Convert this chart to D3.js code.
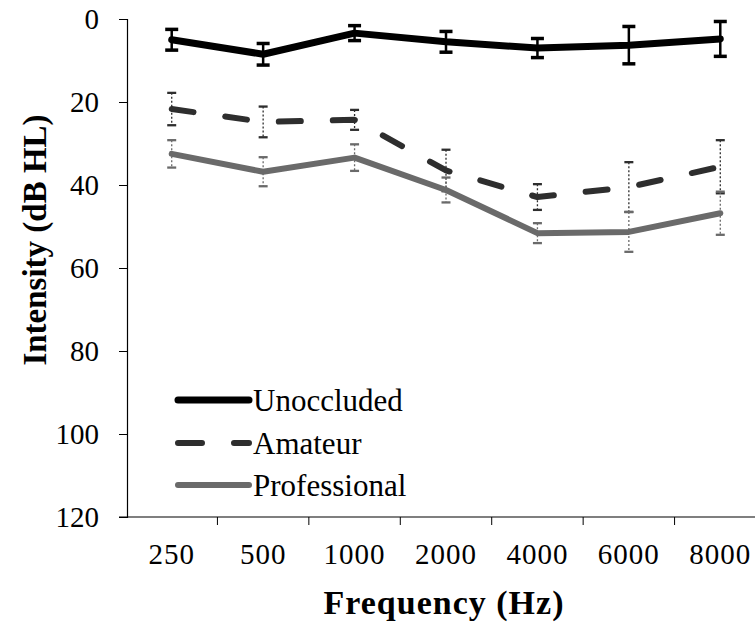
<!DOCTYPE html>
<html>
<head>
<meta charset="utf-8">
<script src="https://cdn.jsdelivr.net/npm/d3@7"></script>
<style>
  body { margin: 0; background: #fff; }
  svg, svg text { font-family: "Liberation Serif", "Times New Roman", Times, "DejaVu Serif", serif; }
</style>
</head>
<body>
<div id="chart"></div>
<script>
(function() {
  'use strict';

  // Data (dB HL, mean +/- error)
  var frequencies = ['250', '500', '1000', '2000', '4000', '6000', '8000'];
  var unoccluded = [5, 8.5, 3.4, 5.5, 7, 6.3, 4.8];
  var unoccludedErr = [2.5, 2.6, 1.8, 2.5, 2.3, 4.5, 4.2];
  var amateur = [21.7, 24.8, 24.3, 36.5, 42.9, 40.5, 35.6];
  var amateurErr = [3.9, 3.7, 2.4, 5, 3.1, 6, 6.4];
  var professional = [32.5, 36.8, 33.4, 41.2, 51.6, 51.3, 46.8];
  var professionalErr = [3.3, 3.5, 3.2, 3, 2.4, 4.8, 5.2];
  var yTicks = [0, 20, 40, 60, 80, 100, 120];

  var series = [
    { name: 'Unoccluded', values: unoccluded, err: unoccludedErr, color: '#000', width: 7, dash: null, errWidth: 2.5, errDash: null, cap: 13 },
    { name: 'Amateur', values: amateur, err: amateurErr, color: '#2e2e2e', width: 6, dash: '22,32', errWidth: 1.3, errDash: '2,2', cap: 9 },
    { name: 'Professional', values: professional, err: professionalErr, color: '#6a6a6a', width: 6, dash: null, errWidth: 1.3, errDash: '2,2', cap: 9 }
  ];

  var width = 755, height = 624;
  var left = 127, top = 19, bottom = 517, right = 766;
  var serif = '"Liberation Serif", "Times New Roman", Times, "DejaVu Serif", serif';

  var svg = d3.select('#chart').append('svg')
    .attr('width', width)
    .attr('height', height);

  var x = d3.scaleBand().domain(frequencies).range([left - 1, right]);
  var y = d3.scaleLinear().domain([0, 120]).range([top, bottom]);

  // --- Axes ---
  var yAxis = svg.append('g')
    .attr('transform', 'translate(' + left + ',0)')
    .call(d3.axisLeft(y).tickValues(yTicks).tickSize(8).tickPadding(20));
  yAxis.attr('font-family', serif);
  yAxis.select('.domain').attr('stroke', '#000').attr('stroke-width', 1.2);
  yAxis.selectAll('.tick line').attr('stroke', '#000');
  yAxis.selectAll('.tick text')
    .style('font-size', '29px')
    .style('font-family', serif)
    .attr('fill', '#000');

  // x axis: ticks between categories
  var boundaries = frequencies.slice(1).map(function(f) { return x(f); });
  var xg = svg.append('g');
  xg.append('line')
    .attr('x1', left - 8).attr('x2', width)
    .attr('y1', bottom).attr('y2', bottom)
    .attr('stroke', '#000').attr('stroke-width', 1.2);
  xg.selectAll('line.tk')
    .data(boundaries)
    .join('line')
    .attr('class', 'tk')
    .attr('x1', function(d) { return d; }).attr('x2', function(d) { return d; })
    .attr('y1', bottom).attr('y2', bottom + 8)
    .attr('stroke', '#000').attr('stroke-width', 1);
  xg.selectAll('text')
    .data(frequencies)
    .join('text')
    .attr('x', function(d) { return x(d) + x.bandwidth() / 2; })
    .attr('y', 564)
    .attr('text-anchor', 'middle')
    .style('font-family', serif)
    .style('font-size', '29px')
    .style('letter-spacing', '1px')
    .text(function(d) { return d; });

  // Axis titles
  svg.append('text')
    .attr('x', 444).attr('y', 614)
    .attr('text-anchor', 'middle')
    .style('font-family', serif)
    .style('font-size', '34px')
    .style('font-weight', '700')
    .style('letter-spacing', '1px')
    .text('Frequency (Hz)');

  svg.append('text')
    .attr('transform', 'translate(46,240) rotate(-90)')
    .attr('text-anchor', 'middle')
    .style('font-family', serif)
    .style('font-size', '33px')
    .style('font-weight', '700')
    .text('Intensity (dB HL)');

  var cx = function(i) { return x(frequencies[i]) + x.bandwidth() / 2; };

  // --- Error bars ---
  series.forEach(function(s) {
    var g = svg.append('g');
    var idx = d3.range(s.values.length);
    g.selectAll('line.v')
      .data(idx).join('line')
      .attr('class', 'v')
      .attr('x1', cx).attr('x2', cx)
      .attr('y1', function(i) { return y(s.values[i] - s.err[i]); })
      .attr('y2', function(i) { return y(s.values[i] + s.err[i]); })
      .attr('stroke', s.color).attr('stroke-width', s.errWidth)
      .attr('stroke-dasharray', s.errDash);
    [-1, 1].forEach(function(sign) {
      g.selectAll('line.c' + (sign + 1))
        .data(idx).join('line')
        .attr('class', 'c' + (sign + 1))
        .attr('x1', function(i) { return cx(i) - s.cap / 2; })
        .attr('x2', function(i) { return cx(i) + s.cap / 2; })
        .attr('y1', function(i) { return y(s.values[i] + sign * s.err[i]); })
        .attr('y2', function(i) { return y(s.values[i] + sign * s.err[i]); })
        .attr('stroke', s.color).attr('stroke-width', s.errWidth + 1);
    });
  });

  // --- Lines ---
  var line = d3.line()
    .x(function(d, i) { return cx(i); })
    .y(function(d) { return y(d); });

  series.forEach(function(s) {
    svg.append('path')
      .datum(s.values)
      .attr('d', line)
      .attr('fill', 'none')
      .attr('stroke', s.color)
      .attr('stroke-width', s.width)
      .attr('stroke-linecap', 'round')
      .attr('stroke-linejoin', 'round')
      .attr('stroke-dasharray', s.dash);
  });

  // --- Legend ---
  var legendY = [400, 443, 485];
  var legend = svg.append('g')
    .selectAll('g')
    .data(series)
    .join('g')
    .attr('transform', function(d, i) { return 'translate(0,' + legendY[i] + ')'; });
  legend.append('line')
    .attr('x1', 178).attr('x2', 249)
    .attr('y1', 0).attr('y2', 0)
    .attr('stroke', function(d) { return d.color; })
    .attr('stroke-width', function(d) { return d.width; })
    .attr('stroke-linecap', 'round')
    .attr('stroke-dasharray', function(d) { return d.dash ? '24,32' : null; });
  legend.append('text')
    .attr('x', 253).attr('y', 11)
    .style('font-family', serif)
    .style('font-size', '31px')
    .text(function(d) { return d.name; });
})();
</script>
</body>
</html>
